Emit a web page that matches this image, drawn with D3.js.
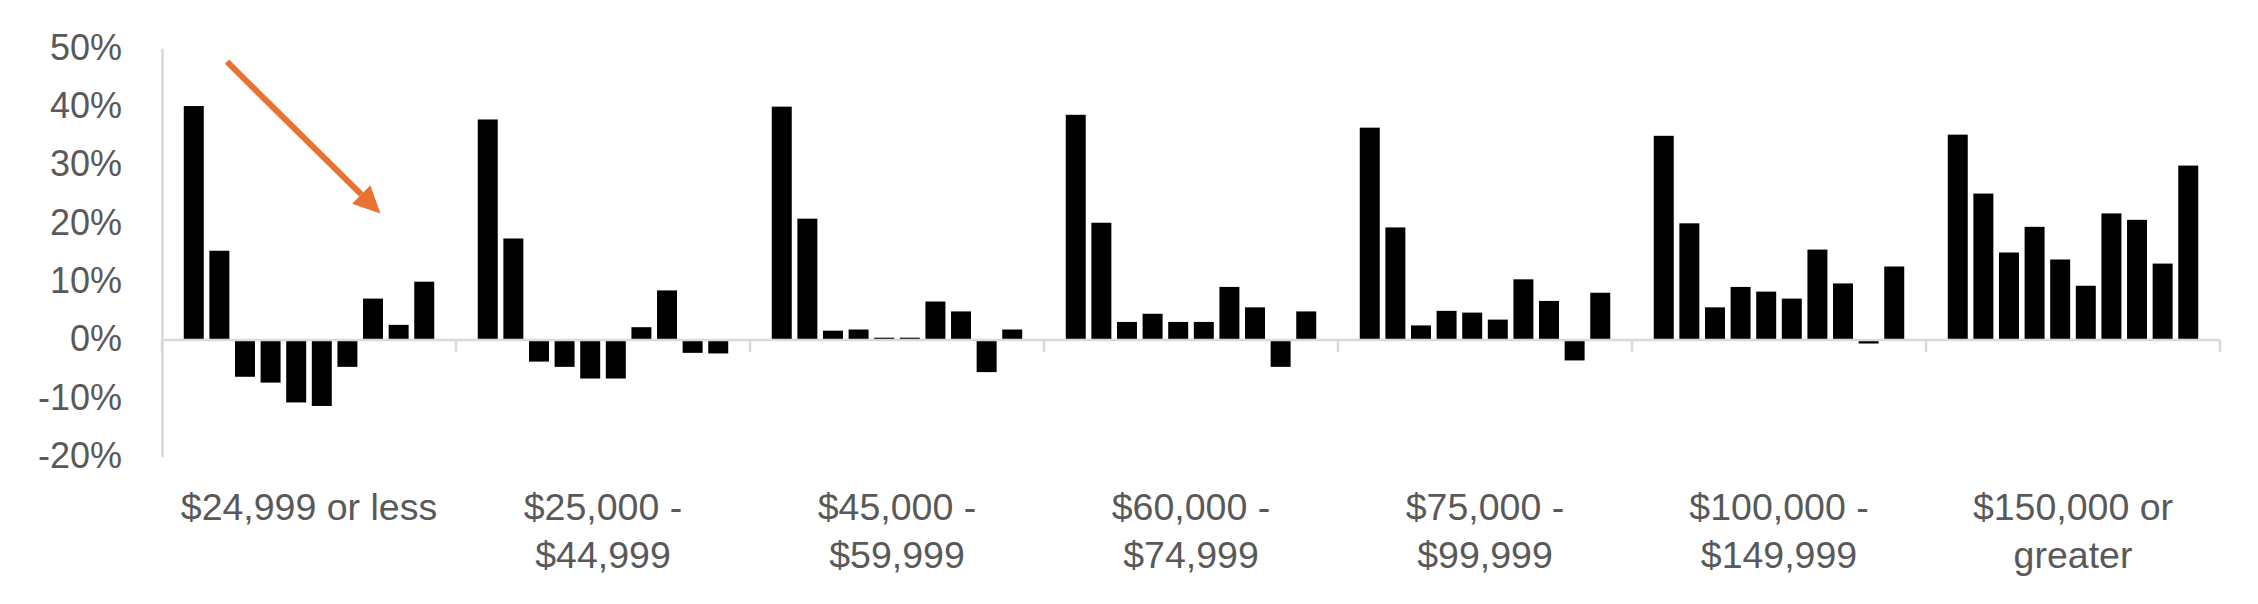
<!DOCTYPE html>
<html lang="en-US">
<head>
  <meta charset="utf-8">
  <script src="https://d3js.org/d3.v7.min.js"></script>
  <style>
    body { margin: 0; background: #fff; }
    text { font-family: "Liberation Sans", Arial, sans-serif; fill: #595959; }
  </style>
</head>
<body>

<svg width="2258" height="604"></svg>

<script>
var svg = d3.select("svg"),
    width = +svg.attr("width"),
    height = +svg.attr("height");

// income groups (two-line labels split on "|")
var categories = ["$24,999 or less", "$25,000 -|$44,999", "$45,000 -|$59,999", "$60,000 -|$74,999",
                  "$75,000 -|$99,999", "$100,000 -|$149,999", "$150,000 or|greater"];

// ten bars per group, percent change
var g1 = [40.1, 15.3, -6.3, -7.3, -10.7, -11.3, -4.6, 7.1, 2.6, 10.0];
var g2 = [37.8, 17.4, -3.7, -4.6, -6.6, -6.6, 2.2, 8.5, -2.2, -2.3];
var g3 = [40.0, 20.8, 1.6, 1.8, 0.4, 0.4, 6.6, 4.9, -5.5, 1.8];
var g4 = [38.6, 20.1, 3.1, 4.5, 3.1, 3.1, 9.1, 5.6, -4.6, 4.9];
var g5 = [36.4, 19.3, 2.5, 5.0, 4.7, 3.5, 10.4, 6.7, -3.5, 8.1];
var g6 = [35.0, 20.0, 5.6, 9.1, 8.3, 7.1, 15.5, 9.7, -0.6, 12.6];
var g7 = [35.2, 25.1, 15.0, 19.4, 13.8, 9.3, 21.7, 20.6, 13.1, 29.9];
var groups = [g1, g2, g3, g4, g5, g6, g7];

var yTicks = [-20, -10, 0, 10, 20, 30, 40, 50];

var x0 = d3.scaleBand().domain(categories).range([162, 2220]);
var x1 = d3.scaleBand().domain(d3.range(10)).range([0, x0.bandwidth()])
    .paddingInner(0.22).paddingOuter(0.85);
var y = d3.scaleLinear().domain([-20, 50]).range([456.7, 48.3]);

// y axis
var yAxis = svg.append("g").attr("transform", "translate(162,0)")
    .call(d3.axisLeft(y).tickValues(yTicks).tickSize(0).tickPadding(40).tickFormat(d => d + "%"));
yAxis.select(".domain").attr("stroke", "#d9d9d9").attr("stroke-width", 2.5);
yAxis.selectAll("text").attr("font-size", 36).attr("fill", "#595959")
    .style("font-family", "'Liberation Sans', Arial, sans-serif").attr("dy", "0.3em");

// bars
var bars = svg.append("g");
groups.forEach(function(vals, gi) {
  bars.selectAll(null)
    .data(vals)
    .enter().append("rect")
    .attr("x", (d, i) => x0(categories[gi]) + x1(i))
    .attr("width", x1.bandwidth())
    .attr("y", d => y(Math.max(0, d)))
    .attr("height", d => Math.abs(y(d) - y(0)))
    .attr("fill", "#000");
});

// x axis on zero line
var xAxis = svg.append("g").attr("transform", "translate(0," + y(0) + ")");
xAxis.append("line")
    .attr("x1", 162).attr("x2", 2220)
    .attr("stroke", "#d9d9d9").attr("stroke-width", 2.5);
var bounds = categories.map(c => x0(c)).concat([x0.range()[1]]);
xAxis.selectAll(".tick").data(bounds).enter().append("line")
    .attr("x1", d => d).attr("x2", d => d)
    .attr("y1", 0).attr("y2", 12)
    .attr("stroke", "#d9d9d9").attr("stroke-width", 2.5);

// category labels
var labels = svg.append("g");
categories.forEach(function(c) {
  var t = labels.append("text")
      .attr("x", x0(c) + x0.bandwidth() / 2)
      .attr("y", 520)
      .attr("text-anchor", "middle")
      .attr("font-size", 37.5);
  c.split("|").forEach(function(line, li) {
    t.append("tspan").attr("x", x0(c) + x0.bandwidth() / 2)
      .attr("y", 520 + li * 48).text(line);
  });
});

// orange arrow annotation
var ax = x0(categories[0]), bw = x0.bandwidth();
var sx = ax + bw * 0.221, sy = y(47.7), tx = ax + bw * 0.743, ty = y(21.7);
var ang = Math.atan2(ty - sy, tx - sx), head = 27, half = 13;
var bx = tx - head * Math.cos(ang), by = ty - head * Math.sin(ang);
svg.append("line")
    .attr("x1", sx).attr("y1", sy).attr("x2", bx).attr("y2", by)
    .attr("stroke", "#e97132").attr("stroke-width", 6);
svg.append("path")
    .attr("d", d3.line()([[tx, ty],
      [bx + half * Math.sin(ang), by - half * Math.cos(ang)],
      [bx - half * Math.sin(ang), by + half * Math.cos(ang)]]) + "Z")
    .attr("fill", "#e97132");
</script>
</body>
</html>
